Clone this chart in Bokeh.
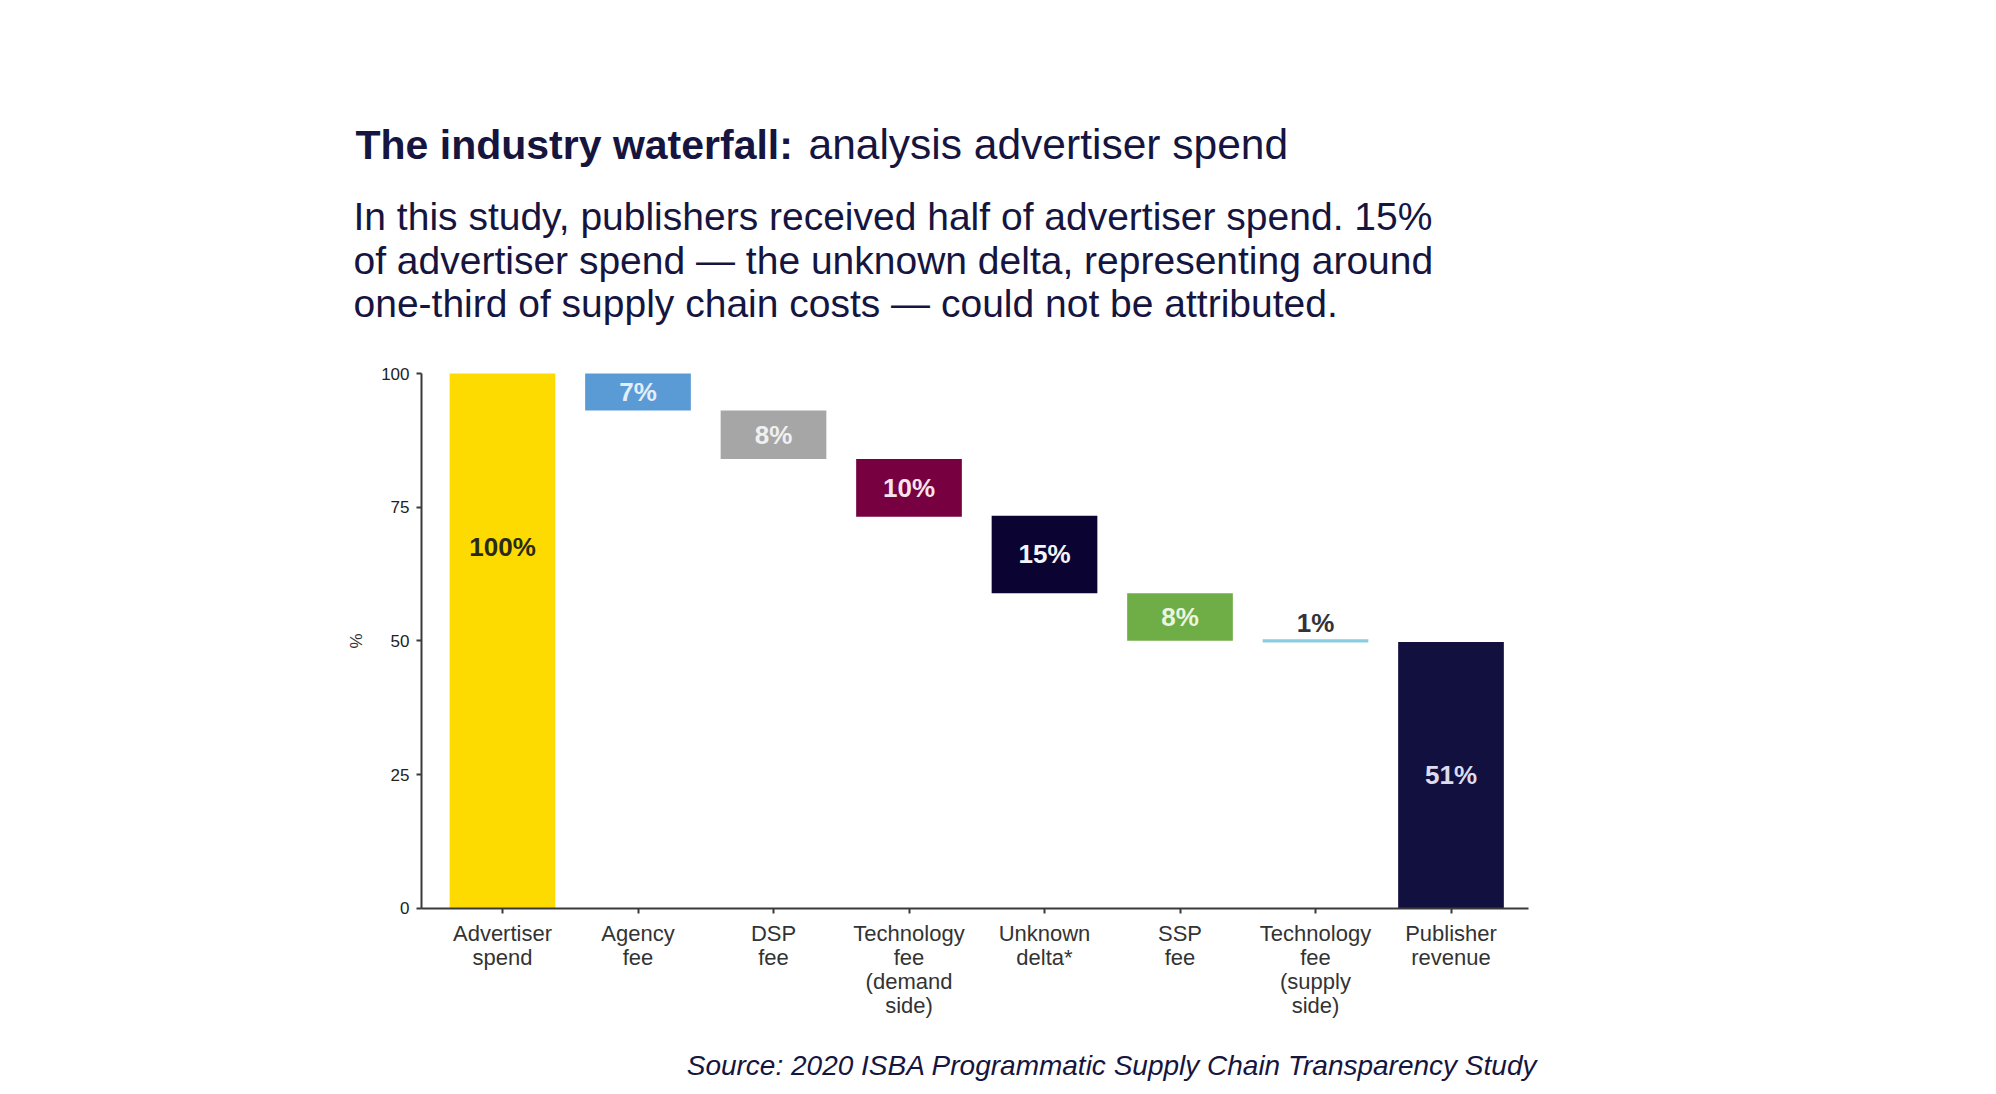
from bokeh.plotting import figure
from bokeh.models import FixedTicker, Range1d, ColumnDataSource
from bokeh.core.properties import value
from bokeh.embed import file_html
from bokeh.resources import INLINE

# ---- data ----
categories = ["Advertiser\nspend", "Agency\nfee", "DSP\nfee",
              "Technology\nfee\n(demand\nside)", "Unknown\ndelta*", "SSP\nfee",
              "Technology\nfee\n(supply\nside)", "Publisher\nrevenue"]
bar_bottom = [0, 93.1, 84.0, 73.2, 58.9, 50.0, 49.7, 0]
bar_top = [100, 100, 93.1, 84.0, 73.4, 58.9, 50.3, 49.8]
value_labels = ["100%", "7%", "8%", "10%", "15%", "8%", "1%", "51%"]
y_ticks = [0, 25, 50, 75, 100]

title_bold = "The industry waterfall:"
title_regular = "analysis advertiser spend"
subtitle_lines = ["In this study, publishers received half of advertiser spend. 15%",
                  "of advertiser spend \u2014 the unknown delta, representing around",
                  "one-third of supply chain costs \u2014 could not be attributed."]
source_text = "Source: 2020 ISBA Programmatic Supply Chain Transparency Study"

bar_colors = ["#FDDA00", "#5B9BD5", "#A6A6A6", "#760040", "#0B0433",
              "#6FAD47", "#89CDE0", "#12103F"]
label_colors = ["#2a2a1a", "#e4eef9", "#f0f0f0", "#f5e4ec", "#f4f4fa",
                "#eaf5e0", "#333338", "#dcdcee"]

FONT = "Liberation Sans"
NAVY = "#16153f"
W, H = 1980, 1086

# page-pixel -> data helpers (layout only)
X0, XS = 502.0, 135.5      # px of category 0, px per category
Y0, YS = 907.7, 5.347      # px of value 0, px per unit


def X(px):
    return (px - X0) / XS


def Y(py):
    return (Y0 - py) / YS


p = figure(width=W, height=H,
           x_range=Range1d(X(0), X(W)), y_range=Range1d(Y(H), Y(0)),
           output_backend="svg", toolbar_location=None,
           min_border=0, min_border_left=0, min_border_right=0,
           min_border_top=0, min_border_bottom=0)
p.outline_line_color = None
p.grid.visible = False

idx = list(range(len(categories)))
label_y = [(t + b) / 2 for t, b in zip(bar_top, bar_bottom)]
label_y[0] = bar_top[0] - 32.5
label_y[6] = bar_top[6] + 3.0

src = ColumnDataSource(dict(x=idx, bottom=bar_bottom, top=bar_top,
                            color=bar_colors, lab=value_labels, ly=label_y,
                            lc=label_colors))

p.vbar(x="x", bottom="bottom", top="top", width=0.78, color="color",
       line_color=None, source=src)
p.text(x="x", y="ly", text="lab", text_color="lc", source=src,
       text_font=value(FONT), text_font_size="26px", text_font_style="bold",
       text_align="center", text_baseline="middle")

# axes placed inside the frame
x_left, x_right = X(421), X(1528)
for ax in (p.xaxis[0], p.yaxis[0]):
    ax.axis_line_color = "#3a3a3a"
    ax.axis_line_width = 2
    ax.major_tick_line_color = "#3a3a3a"
    ax.major_tick_line_width = 2
    ax.major_tick_in = 0
    ax.major_tick_out = 5
    ax.minor_tick_line_color = None
    ax.major_label_text_font = FONT

p.xaxis.fixed_location = 0
p.xaxis.bounds = (x_left, x_right)
p.xaxis.ticker = FixedTicker(ticks=idx)
p.xaxis.major_label_overrides = {i: c for i, c in zip(idx, categories)}
p.xaxis.major_label_text_font_size = "22px"
p.xaxis.major_label_text_line_height = 0.96
p.xaxis.major_label_text_color = "#333333"
p.xaxis.major_label_standoff = 8

p.yaxis.fixed_location = x_left
p.yaxis.bounds = (0, 100)
p.yaxis.ticker = FixedTicker(ticks=y_ticks)
p.yaxis.major_label_text_font_size = "17px"
p.yaxis.major_label_text_color = "#222222"
p.yaxis.major_label_standoff = 7
p.yaxis.axis_label = "%"
p.yaxis.axis_label_text_font = FONT
p.yaxis.axis_label_text_font_style = "normal"
p.yaxis.axis_label_text_font_size = "17px"
p.yaxis.axis_label_text_color = "#333333"
p.yaxis.axis_label_standoff = 12

# header / footer text
p.text(x=[X(355)], y=[Y(144)], text=[title_bold], text_font=value(FONT),
       text_font_size="41px", text_font_style="bold", text_color=NAVY,
       text_align="left", text_baseline="middle")
p.text(x=[X(808)], y=[Y(144)], text=[title_regular], text_font=value(FONT),
       text_font_size="42.5px", text_color=NAVY,
       text_align="left", text_baseline="middle")
p.text(x=[X(353)] * 3, y=[Y(216), Y(259.5), Y(303)], text=subtitle_lines,
       text_font=value(FONT), text_font_size="39px", text_color=NAVY,
       text_align="left", text_baseline="middle")
p.text(x=[X(1537)], y=[Y(1065)], text=[source_text], text_font=value(FONT),
       text_font_size="28px", text_font_style="italic", text_color=NAVY,
       text_align="right", text_baseline="middle")

open("out.html", "w").write(file_html(p, INLINE))
